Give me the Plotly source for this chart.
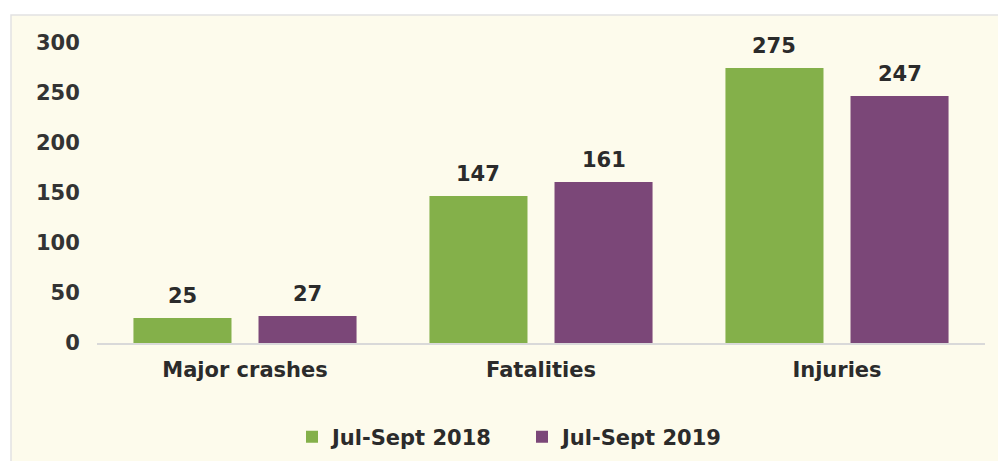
import plotly.graph_objects as go

categories = ["Major crashes", "Fatalities", "Injuries"]
series_names = ["Jul-Sept 2018", "Jul-Sept 2019"]
values_2018 = [25, 147, 275]
values_2019 = [27, 161, 247]
y_ticks = [0, 50, 100, 150, 200, 250, 300]

GREEN = "#84B04A"
PURPLE = "#7B4778"
TEXT = "#2B2B2B"
FONT = "DejaVu Sans"

# the page body adds an 8px offset; size the figure to fill the window after that
OFF = 8
W, H = 1006 - OFF, 461 - OFF
ML, MR, MT, MB = 97 - OFF, 21, 43 - OFF, 118

fig = go.Figure()
fig.add_trace(go.Bar(name=series_names[0], x=categories, y=values_2018,
                     marker=dict(color=GREEN, line=dict(width=0))))
fig.add_trace(go.Bar(name=series_names[1], x=categories, y=values_2019,
                     marker=dict(color=PURPLE, line=dict(width=0))))

# data labels above bars
bargap, groupgap = 0.155, 0.216
cat_px = (W - ML - MR) / len(categories)
slot_px = cat_px * (1 - bargap) / 2
for vals, sign in ((values_2018, -1), (values_2019, 1)):
    for c, v in zip(categories, vals):
        fig.add_annotation(x=c, y=v, text=str(v), showarrow=False,
                           xshift=sign * slot_px / 2, yanchor="bottom", yshift=8,
                           font=dict(family=FONT, size=21, color=TEXT, weight="bold"))

# chart area background with thin border (page pixel coords -> paper coords)
px2x = lambda p: (p - OFF - ML) / (W - ML - MR)
py2y = lambda p: (H - MB - (p - OFF)) / (H - MT - MB)
fig.add_shape(type="rect", xref="paper", yref="paper",
              x0=px2x(11), x1=px2x(1010), y0=py2y(15), y1=py2y(465),
              fillcolor="#FDFBEC", line=dict(color="#E2E2E2", width=1.5), layer="below")

fig.update_layout(
    width=W, height=H,
    margin=dict(l=ML, r=MR, t=MT, b=MB, autoexpand=False),
    paper_bgcolor="white",
    plot_bgcolor="rgba(0,0,0,0)",
    barmode="group", bargap=bargap, bargroupgap=groupgap,
    font=dict(family=FONT, size=21, color=TEXT, weight="bold"),
    showlegend=True,
    legend=dict(orientation="h", xref="container", yref="container",
                x=(516 - OFF + 6) / W, xanchor="center", y=1 - (437 - OFF) / H, yanchor="middle",
                font=dict(family=FONT, size=21, color=TEXT, weight="bold"),
                bgcolor="rgba(0,0,0,0)", itemwidth=30, traceorder="normal",
                entrywidth=185, entrywidthmode="pixels"),
    xaxis=dict(showgrid=False, showline=True, linecolor="#D9D9D9", linewidth=1.5,
               ticks="outside", ticklen=7, tickcolor="rgba(0,0,0,0)",
               tickfont=dict(family=FONT, size=21, color=TEXT, weight="bold"),
               zeroline=False, automargin=False),
    yaxis=dict(range=[0, 300], tickvals=y_ticks, showgrid=False, zeroline=False,
               showline=False, ticks="outside", ticklen=12, tickcolor="rgba(0,0,0,0)",
               tickfont=dict(family=FONT, size=21, color="#333333", weight="bold"),
               automargin=False),
)

fig.write_html("out.html")
